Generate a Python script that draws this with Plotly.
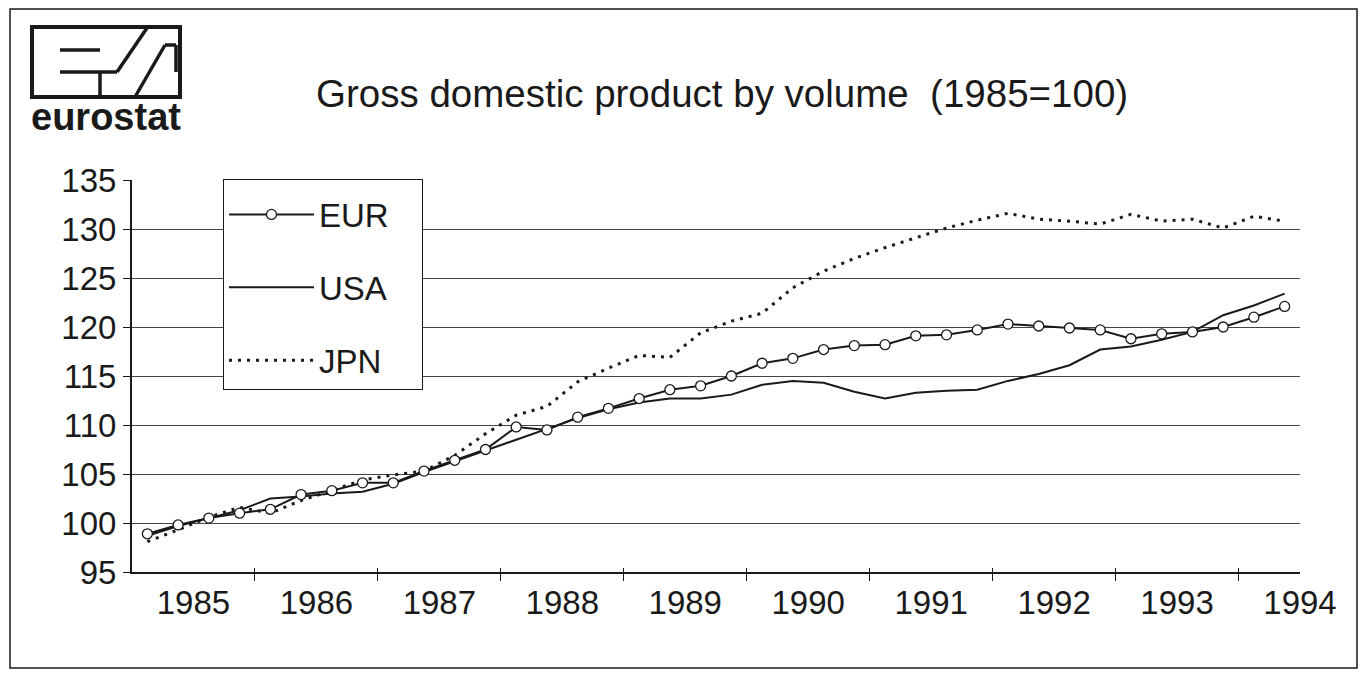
import plotly.graph_objects as go

# ---------------- data ----------------
years = ["1985", "1986", "1987", "1988", "1989", "1990", "1991", "1992", "1993", "1994"]
quarters = ["Q1", "Q2", "Q3", "Q4"]
n_quarters = 38  # 1985Q1 .. 1994Q2
quarter_labels = [f"{years[i // 4]} {quarters[i % 4]}" for i in range(n_quarters)]

eur = [98.9, 99.8, 100.5, 101.0, 101.4, 102.9, 103.3, 104.1,
       104.1, 105.3, 106.4, 107.5, 109.8, 109.5, 110.8, 111.7,
       112.7, 113.6, 114.0, 115.0, 116.3, 116.8, 117.7, 118.1,
       118.2, 119.1, 119.2, 119.7, 120.3, 120.1, 119.9, 119.7,
       118.8, 119.3, 119.5, 120.0, 121.0, 122.1]
usa = [98.7, 99.7, 100.5, 101.3, 102.5, 102.7, 103.0, 103.2,
       104.0, 105.2, 106.3, 107.4, 108.5, 109.6, 110.7, 111.6,
       112.3, 112.7, 112.7, 113.1, 114.1, 114.5, 114.3, 113.4,
       112.7, 113.3, 113.5, 113.6, 114.5, 115.2, 116.1, 117.7,
       118.0, 118.7, 119.5, 121.2, 122.2, 123.4]
jpn = [98.1, 99.3, 100.6, 101.6, 101.0, 102.3, 103.3, 104.4,
       104.9, 105.3, 106.9, 109.1, 111.0, 111.9, 114.4, 115.8,
       117.1, 116.9, 119.4, 120.6, 121.4, 124.0, 125.7, 127.0,
       128.1, 129.1, 130.1, 130.9, 131.6, 131.0, 130.8, 130.5,
       131.5, 130.8, 131.0, 130.1, 131.3, 130.8]

series_names = ["EUR", "USA", "JPN"]
title_text = "Gross domestic product by volume\u00a0\u00a0(1985=100)"

# ---------------- layout helpers ----------------
W, H = 1362, 673
L, R, T, B = 132, 1300, 180, 572  # plot area in pixels


def px(x):
    return (x - L) / (R - L)


def py(y):
    return (B - y) / (B - T)


FONT = "Arial, 'Liberation Sans', sans-serif"
INK = "#1a1a1a"
PAD = "\u00a0\u00a0\u00a0"

xq = list(range(n_quarters))
year_centers = [1.5 + 4 * k for k in range(len(years))]
year_bounds = [3.5 + 4 * k for k in range(len(years) - 1)]
xrange_ = [-0.5, n_quarters - 0.5]

fig = go.Figure()
fig.add_trace(go.Scatter(
    x=xq, y=jpn, name=series_names[2] + PAD, mode="lines", legendrank=3, legendgroup="JPN",
    text=quarter_labels, hovertemplate="%{text}: %{y}<extra>JPN</extra>",
    line=dict(color=INK, width=3, dash="3px,6px")))
fig.add_trace(go.Scatter(
    x=xq, y=usa, name=series_names[1] + PAD, mode="lines", legendrank=2, legendgroup="USA",
    text=quarter_labels, hovertemplate="%{text}: %{y}<extra>USA</extra>",
    line=dict(color=INK, width=2)))
fig.add_trace(go.Scatter(
    x=xq, y=eur, name=series_names[0] + PAD, mode="lines+markers", legendrank=1, legendgroup="EUR",
    text=quarter_labels, hovertemplate="%{text}: %{y}<extra>EUR</extra>",
    line=dict(color=INK, width=2),
    marker=dict(symbol="circle", size=10, color="white", line=dict(color=INK, width=1.3))))
# helper traces so overlay axes are drawn
fig.add_trace(go.Scatter(x=[None], y=[None], xaxis="x2", showlegend=False, hoverinfo="skip"))
fig.add_trace(go.Scatter(x=[None], y=[None], xaxis="x3", showlegend=False, hoverinfo="skip"))

shapes = []
# outer frame
shapes.append(dict(type="rect", xref="paper", yref="paper",
                   x0=px(10), x1=px(1357), y0=py(668), y1=py(9),
                   line=dict(color=INK, width=1.5), layer="below"))
# eurostat logo
logo_lines = [
    ((60, 50), (100, 50)),
    ((60, 72), (117, 72)),
    ((100, 72), (100, 97)),
    ((117, 72), (147, 28)),
    ((135, 97), (165, 45)),
    ((165, 45), (176, 45)),
    ((176, 45), (176, 72)),
]
shapes.append(dict(type="rect", xref="paper", yref="paper",
                   x0=px(32), x1=px(180), y0=py(97), y1=py(27),
                   line=dict(color=INK, width=4)))
for (a, b) in logo_lines:
    shapes.append(dict(type="line", xref="paper", yref="paper",
                       x0=px(a[0]), y0=py(a[1]), x1=px(b[0]), y1=py(b[1]),
                       line=dict(color=INK, width=3.5)))

annotations = [
    dict(text=title_text, xref="paper", yref="paper", x=px(722), y=py(93),
         xanchor="center", yanchor="middle", showarrow=False,
         font=dict(family=FONT, size=38.5, color=INK)),
    dict(text="<b>eurostat</b>", xref="paper", yref="paper", x=px(106), y=py(117),
         xanchor="center", yanchor="middle", showarrow=False,
         font=dict(family=FONT, size=38, color=INK)),
]

axis_common = dict(range=xrange_, showgrid=False, zeroline=False, fixedrange=True)

fig.update_layout(
    width=W, height=H, autosize=False,
    margin=dict(l=L, r=W - R, t=T, b=H - B, pad=0),
    paper_bgcolor="white", plot_bgcolor="white",
    font=dict(family=FONT, size=33, color=INK),
    xaxis=dict(**axis_common, tickmode="array", tickvals=year_bounds,
               showticklabels=False, ticks="outside", ticklen=7, tickwidth=1.3,
               tickcolor=INK, showline=True, linecolor=INK, linewidth=1.6),
    xaxis2=dict(**axis_common, overlaying="x", anchor="y", side="bottom",
                tickmode="array", tickvals=year_centers, ticktext=years,
                ticks="", showline=False, ticklabelstandoff=8,
                tickfont=dict(family=FONT, size=33, color=INK)),
    xaxis3=dict(**axis_common, overlaying="x", anchor="y", side="bottom",
                tickmode="array", tickvals=year_bounds, showticklabels=False,
                ticks="inside", ticklen=4, tickwidth=1.3, tickcolor=INK, showline=False),
    yaxis=dict(range=[95, 135], tickmode="linear", tick0=95, dtick=5,
               showgrid=True, gridcolor="#444444", gridwidth=1,
               showline=True, linecolor=INK, linewidth=2,
               ticks="outside", ticklen=7, tickwidth=1.3, tickcolor=INK,
               zeroline=False, fixedrange=True,
               tickfont=dict(family=FONT, size=33, color=INK)),
    legend=dict(x=px(223), y=py(179), xanchor="left", yanchor="top",
                bgcolor="white", bordercolor=INK, borderwidth=1,
                font=dict(family=FONT, size=33, color=INK),
                title=dict(text="\u00a0", font=dict(size=5)),
                tracegroupgap=27, itemwidth=85, traceorder="grouped"),
    showlegend=True,
    shapes=shapes,
    annotations=annotations,
)

fig.write_html("out.html", config={"displayModeBar": False},
               post_script="document.body.style.margin='0';")
